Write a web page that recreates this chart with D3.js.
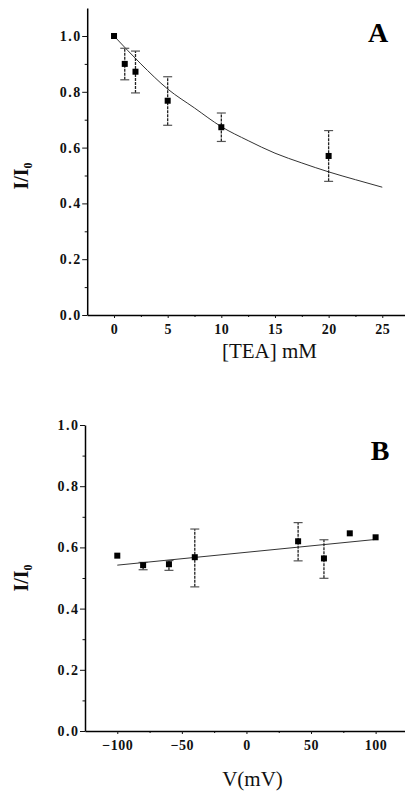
<!DOCTYPE html>
<html>
<head>
<meta charset="utf-8">
<script src="https://cdn.jsdelivr.net/npm/d3@7"></script>
<style>
  body { margin: 0; background: #fff; }
  svg { display: block; }
</style>
</head>
<body>
<div id="graph"></div>
<script>

// panel A : block by TEA
const teaConc = [0, 1, 2, 5, 10, 20];
const teaRatio = [1.0, 0.90, 0.872, 0.768, 0.673, 0.570];
const teaErrLow = [null, 0.843, 0.796, 0.68, 0.622, 0.479];
const teaErrHigh = [null, 0.956, 0.946, 0.854, 0.724, 0.661];
const teaFitX = [0, 2.5, 5, 7.5, 10, 12.5, 15, 17.5, 20, 22.5, 25];
const teaFitY = [1.0, 0.90, 0.81, 0.742, 0.675, 0.625, 0.58, 0.545, 0.513, 0.485, 0.458];
const teaXTicks = [0, 5, 10, 15, 20, 25];
const teaXMinor = [2.5, 7.5, 12.5, 17.5, 22.5];
const teaYTicks = [0, 0.2, 0.4, 0.6, 0.8, 1.0];
const teaYMinor = [0.1, 0.3, 0.5, 0.7, 0.9];

// panel B : voltage dependence
const voltage = [-100, -80, -60, -40, 40, 60, 80, 100];
const voltRatio = [0.573, 0.542, 0.545, 0.568, 0.620, 0.564, 0.646, 0.633];
const voltErrLow = [null, 0.527, 0.525, 0.471, 0.556, 0.499, null, null];
const voltErrHigh = [null, 0.551, 0.557, 0.660, 0.681, 0.625, null, null];
const voltFitX = [-100, 100];
const voltFitY = [0.542, 0.626];
const voltXTicks = [-100, -50, 0, 50, 100];
const voltXMinor = [-75, -25, 25, 75];
const voltYTicks = [0, 0.2, 0.4, 0.6, 0.8, 1.0];
const voltYMinor = [0.1, 0.3, 0.5, 0.7, 0.9];

const width = 405;
const height = 793;
const serif = "'Liberation Serif', 'Times New Roman', serif";

const svg = d3.select("#graph")
    .append("svg")
    .attr("width", width)
    .attr("height", height);

drawPanel = (p) => {
    const xScale = d3.scaleLinear().domain(p.xDomain).range(p.xRange);
    const yScale = d3.scaleLinear().domain(p.yDomain).range(p.yRange);
    const g = svg.append("g");

    // minor ticks first, no labels
    g.append("g")
        .attr("transform", "translate(" + p.xRange[0] + ",0)")
        .call(d3.axisLeft(yScale).tickValues(p.yMinor).tickSize(2.5).tickFormat(""))
        .call(a => a.select(".domain").remove());
    g.append("g")
        .attr("transform", "translate(0," + p.yRange[0] + ")")
        .call(d3.axisBottom(xScale).tickValues(p.xMinor).tickSize(2).tickFormat(""))
        .call(a => a.select(".domain").remove());

    const yAxis = g.append("g")
        .attr("transform", "translate(" + p.xRange[0] + ",0)")
        .call(d3.axisLeft(yScale).tickValues(p.yTicks).tickSize(5).tickSizeOuter(0)
            .tickPadding(2).tickFormat(d3.format(".1f")));
    const xAxis = g.append("g")
        .attr("transform", "translate(0," + p.yRange[0] + ")")
        .call(d3.axisBottom(xScale).tickValues(p.xTicks).tickSize(3).tickSizeOuter(0)
            .tickPadding(6));

    [yAxis, xAxis].forEach(a => {
        a.select(".domain").attr("stroke", "#000").attr("stroke-width", 1.5);
        a.selectAll("text")
            .attr("font-family", serif)
            .attr("font-size", 14)
            .attr("font-weight", "bold")
            .attr("fill", "#111");
    });
    yAxis.selectAll("text").attr("letter-spacing", "1.5px").attr("dx", "1.5");
    xAxis.selectAll("text").attr("letter-spacing", "0.5px");
    g.selectAll(".tick line").attr("stroke", "#111");

    // fitted curve
    const line = d3.line()
        .x((d, i) => xScale(p.fitX[i]))
        .y((d) => yScale(d))
        .curve(d3.curveMonotoneX);
    g.append("path")
        .datum(p.fitY)
        .attr("d", line)
        .attr("fill", "none")
        .attr("stroke", "#333")
        .attr("stroke-width", 1);

    // error bars
    const idx = d3.range(p.xs.length).filter(i => p.lo[i] !== null);
    const bars = g.selectAll(".err")
        .data(idx)
        .enter()
        .append("g")
        .attr("class", "err");
    bars.append("line")
        .attr("x1", i => xScale(p.xs[i]))
        .attr("x2", i => xScale(p.xs[i]))
        .attr("y1", i => yScale(p.lo[i]))
        .attr("y2", i => yScale(p.hi[i]))
        .attr("stroke", "#222")
        .attr("stroke-width", 1.3)
        .attr("stroke-dasharray", "3,1");
    [p.lo, p.hi].forEach(arr => {
        bars.append("line")
            .attr("x1", i => xScale(p.xs[i]) - 4.5)
            .attr("x2", i => xScale(p.xs[i]) + 4.5)
            .attr("y1", i => yScale(arr[i]))
            .attr("y2", i => yScale(arr[i]))
            .attr("stroke", "#555")
            .attr("stroke-width", 1.2);
    });

    // square markers
    g.selectAll(".pt")
        .data(p.ys)
        .enter()
        .append("rect")
        .attr("class", "pt")
        .attr("x", (d, i) => xScale(p.xs[i]) - 3)
        .attr("y", (d) => yScale(d) - 3)
        .attr("width", 6)
        .attr("height", 6)
        .attr("fill", "#000");

    // y title I/I0
    const yt = g.append("text")
        .attr("transform", "translate(28," + p.yTitleY + ") rotate(-90)")
        .attr("text-anchor", "middle")
        .attr("font-family", serif)
        .attr("font-size", 20)
        .attr("font-weight", "bold")
        .attr("fill", "#111");
    yt.append("tspan").text("I/I");
    yt.append("tspan").attr("font-size", 12).attr("dy", 4).text("0");

    g.append("text")
        .attr("x", p.xTitleX)
        .attr("y", p.xTitleY)
        .attr("text-anchor", "middle")
        .attr("font-family", serif)
        .attr("font-size", 21)
        .attr("fill", "#111")
        .text(p.xTitle);

    g.append("text")
        .attr("x", p.letterX)
        .attr("y", p.letterY)
        .attr("text-anchor", "middle")
        .attr("font-family", serif)
        .attr("font-size", 28)
        .attr("font-weight", "bold")
        .attr("fill", "#000")
        .text(p.letter);
}

drawPanel({
    xDomain: [-2.5, 27.5], xRange: [87.2, 409.1],
    yDomain: [0, 1.1], yRange: [315, 8.1],
    xTicks: teaXTicks, xMinor: teaXMinor, yTicks: teaYTicks, yMinor: teaYMinor,
    xs: teaConc, ys: teaRatio, lo: teaErrLow, hi: teaErrHigh,
    fitX: teaFitX, fitY: teaFitY,
    xTitle: "[TEA] mM", xTitleX: 269.5, xTitleY: 358, yTitleY: 176,
    letter: "A", letterX: 378, letterY: 42
});

drawPanel({
    xDomain: [-125, 125], xRange: [85, 407.9],
    yDomain: [0, 1.0], yRange: [731, 425],
    xTicks: voltXTicks, xMinor: voltXMinor, yTicks: voltYTicks, yMinor: voltYMinor,
    xs: voltage, ys: voltRatio, lo: voltErrLow, hi: voltErrHigh,
    fitX: voltFitX, fitY: voltFitY,
    xTitle: "V(mV)", xTitleX: 252.5, xTitleY: 786, yTitleY: 578,
    letter: "B", letterX: 380, letterY: 460
});

</script>
</body>
</html>
